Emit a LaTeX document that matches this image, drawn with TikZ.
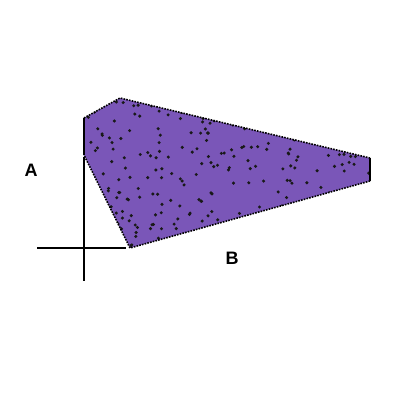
\documentclass[tikz,border=0pt]{standalone}
\usepackage{fontspec}
\setmainfont{Liberation Sans}
\begin{document}
\begin{tikzpicture}[x=1pt,y=-1pt,
  axisline/.style={line width=1.1pt,black},
  lbl/.style={font=\fontsize{18}{20}\selectfont\bfseries,inner sep=0pt}]
\useasboundingbox (0,0) rectangle (400,400);
\fill[white] (0,0) rectangle (400,400);
% shape
\coordinate (p1) at (84,118);
\coordinate (p2) at (120,98);
\coordinate (p3) at (370,158);
\coordinate (p4) at (370,181);
\coordinate (p5) at (130,248);
\coordinate (p6) at (84,155);
\fill[fill={rgb,255:red,122;green,86;blue,184}] (p1)--(p2)--(p3)--(p4)--(p5)--(p6)--cycle;
\begin{scope}
\clip (p1)--(p2)--(p3)--(p4)--(p5)--(p6)--cycle;
\pgfmathsetseed{7}
\foreach \i in {1,...,300}{
  \pgfmathsetmacro{\rx}{80+rnd*292}
  \pgfmathsetmacro{\ry}{95+rnd*155}
  \fill[black!90] (\rx,\ry) circle [radius=1.7pt];
}
\end{scope}
\draw[black,line width=1.6pt,dash pattern=on 1.6pt off 1.2pt] (p1)--(p2)--(p3) (p4)--(p5)--(p6);
\draw[black,line width=1.5pt] (p6)--(p1) (p3)--(p4);
% axes
\coordinate (vtop) at (84,157);
\coordinate (vbot) at (84,281);
\coordinate (hl) at (37,248);
\coordinate (hr) at (126,248);
\draw[axisline] (vtop)--(vbot);
\draw[axisline] (hl)--(hr);
\node[lbl] (A) at (31,170) {A};
\node[lbl] (B) at (232,258) {B};
\end{tikzpicture}
\end{document}
